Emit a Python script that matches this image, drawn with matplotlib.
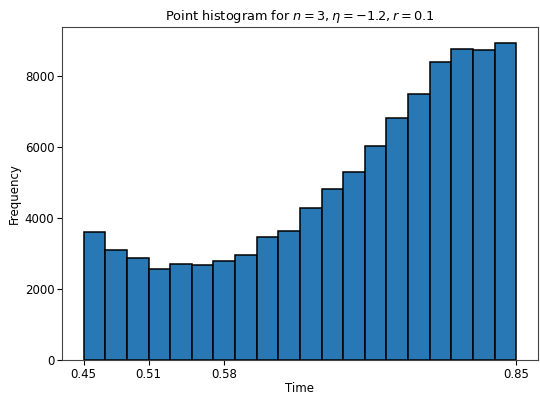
import numpy as np
import matplotlib.pyplot as plt

# histogram counts per bin, bins of width 0.02 from 0.45 to 0.85
bin_edges = np.linspace(0.45, 0.85, 21)
counts = [3610, 3100, 2890, 2580, 2700, 2675, 2795, 2975, 3470, 3650,
          4275, 4820, 5290, 6040, 6815, 7510, 8395, 8770, 8735, 8950]
xtick_vals = [0.45, 0.51, 0.58, 0.85]

fig = plt.figure(figsize=(5.4, 3.96), dpi=100)
ax = fig.add_axes([0.115, 0.091, 0.881, 0.841])

centers = (bin_edges[:-1] + bin_edges[1:]) / 2
ax.hist(centers, bins=bin_edges, weights=counts, color='#2878b5',
        edgecolor='black', linewidth=1.1)

ax.set_xticks(xtick_vals)
ax.set_xticklabels(['%.2f' % v for v in xtick_vals])
ax.tick_params(labelsize=8.5, pad=2)
for s in ax.spines.values():
    s.set_color('#444444')
ax.set_title(r'Point histogram for $n=3, \eta=-1.2, r=0.1$', fontsize=9.3, pad=5)
ax.set_xlabel('Time', fontsize=8.5, labelpad=1)
ax.set_ylabel('Frequency', fontsize=8.5, labelpad=3)

fig.savefig('out.png', dpi=100)
